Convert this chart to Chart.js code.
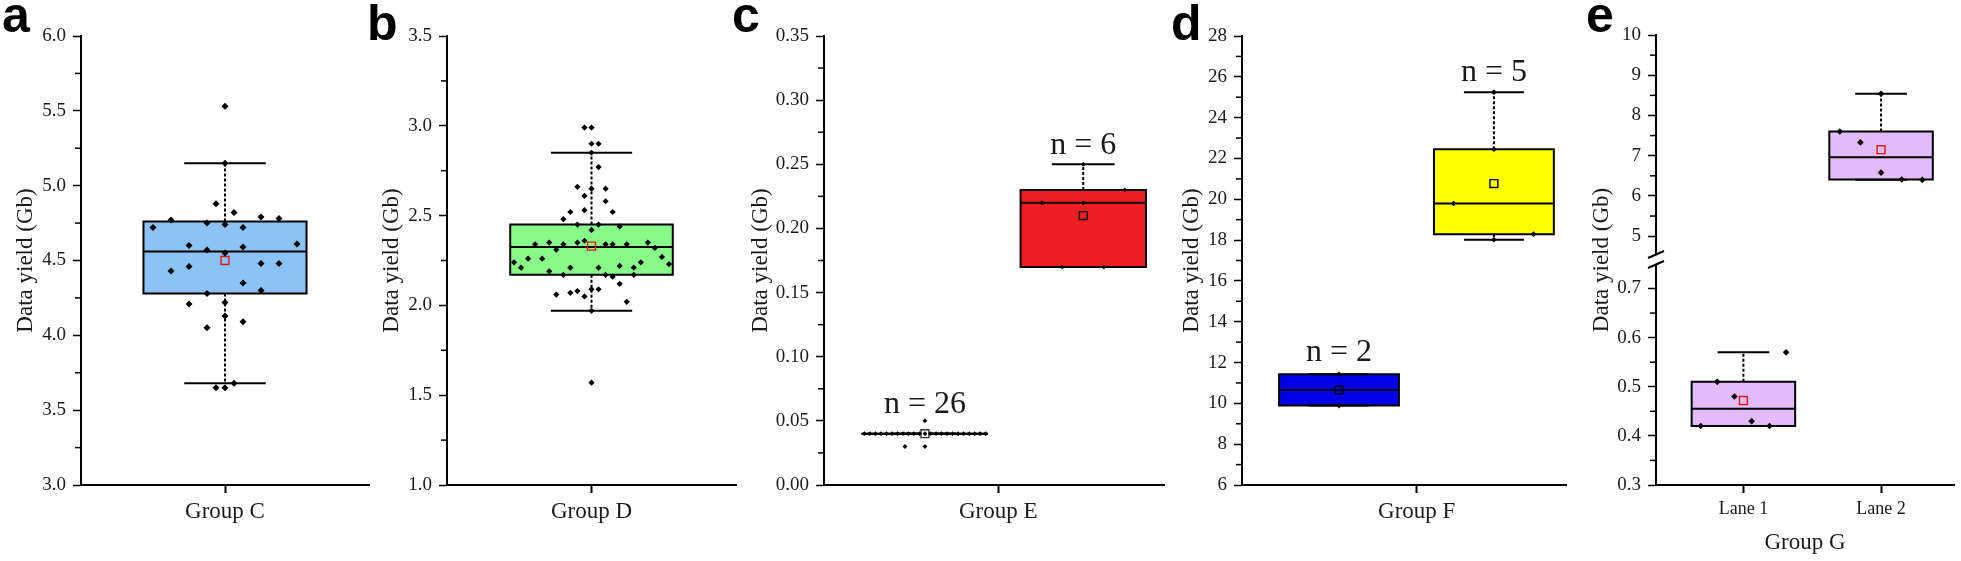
<!DOCTYPE html>
<html>
<head>
<meta charset="utf-8">
<script src="https://cdn.jsdelivr.net/npm/chart.js@4.4.1/dist/chart.umd.min.js"></script>
<style>
  html, body { margin: 0; padding: 0; background: #fff; }
  body { width: 1961px; height: 561px; position: relative; overflow: hidden; }
  canvas { position: absolute; top: 0; }
  .letter { position: absolute; font: bold 50px "Liberation Sans", Arial, sans-serif; line-height: 1; color: #000; }
  .ytitle { position: absolute; width: 300px; text-align: center; font: 23px "Liberation Serif", "Times New Roman", serif;
            line-height: 28px; color: #1a1a1a; transform: rotate(-90deg); }
</style>
</head>
<body>
<canvas id="chartA" width="380" height="561" style="left:0px"></canvas>
<canvas id="chartB" width="380" height="561" style="left:366px"></canvas>
<canvas id="chartC" width="432" height="561" style="left:743px"></canvas>
<canvas id="chartD" width="416" height="561" style="left:1161px"></canvas>
<canvas id="chartE" width="386" height="561" style="left:1575px"></canvas>

<div class="letter" style="left:2px; top:-10px">a</div>
<div class="letter" style="left:367px; top:-2px">b</div>
<div class="letter" style="left:732px; top:-10px">c</div>
<div class="letter" style="left:1171px; top:-2px">d</div>
<div class="letter" style="left:1586px; top:-10px">e</div>
<div class="ytitle" style="left:1451px; top:246px">Data yield (Gb)</div>

<script>
// ---- données ----
// a : Group C
const groupC_values = [5.53, 5.15, 4.88, 4.82, 4.77, 4.79, 4.78, 4.72, 4.75, 4.74, 4.72, 4.60, 4.61, 4.57, 4.59, 4.55,
                       4.43, 4.46, 4.48, 4.48, 4.35, 4.30, 4.28, 4.21, 4.22, 4.13, 4.05, 4.09, 3.65, 3.65, 3.68];
const groupC_jitter = [0, 0, -0.5, 0.5, -3, 2, 3, -4, -1, 0, 1, -2, 4, -1, 1, 0,
                       -3, -2, 2, 3, 1, 2, -1, -2, 0, 0, -1, 1, -0.5, 0, 0.5];
const groupC_box = [3.68, 4.28, 4.56, 4.76, 5.15]; // whisker bas, Q1, médiane, Q3, whisker haut
const groupC_mean = 4.50;

// b : Group D
const groupD_values = [2.99, 2.99, 2.90, 2.90, 2.85, 2.77, 2.66, 2.65, 2.65, 2.61, 2.58, 2.52, 2.53, 2.52, 2.48, 2.45, 2.45, 2.44, 2.42,
                       2.34, 2.35, 2.34, 2.35, 2.36, 2.34, 2.34, 2.34, 2.35, 2.31, 2.32,
                       2.24, 2.21, 2.26, 2.26, 2.27, 2.23, 2.24,
                       2.19, 2.21, 2.21, 2.22, 2.21,
                       2.17, 2.17, 2.16, 2.17,
                       2.06, 2.07, 2.08, 2.05, 2.09, 2.09, 2.12, 2.02, 1.97, 1.57];
const groupD_jitter = [-0.39, 0, 0, 0.39, 0, 0.39, -0.78, 0, 0.78, -0.39, 0.78, -1.17, -0.39, 1.17, -1.56, -0.78, 0.39, 1.56, 0,
                       -3.12, -2.34, -1.56, -0.78, -0.39, 0.78, 1.17, 1.95, 3.12, -1.95, 3.51,
                       -4.29, -3.90, -3.51, -2.73, 3.90, 4.29, 2.73,
                       -2.34, -1.17, 0.39, 1.56, 2.34,
                       -1.56, 0.78, 1.17, 2.34,
                       -1.95, -1.17, -0.78, -0.39, 0, 0.39, 1.56, 1.95, 0, 0];
const groupD_box = [1.97, 2.17, 2.325, 2.45, 2.85];
const groupD_mean = 2.33;

// c : Group E (deux sous-groupes)
const groupE1_values = [0.04, 0.04, 0.04, 0.04, 0.04, 0.04, 0.04, 0.04, 0.04, 0.04, 0.04, 0.04,
                        0.04, 0.04, 0.04, 0.04, 0.04, 0.04, 0.04, 0.04, 0.04, 0.04, 0.04, 0.03, 0.03, 0.05];
const groupE1_jitter = [-2.85, -2.59, -2.33, -2.07, -1.81, -1.55, -1.29, -1.03, -0.78, -0.52, -0.26, 0,
                        0.26, 0.52, 0.78, 1.04, 1.30, 1.56, 1.82, 2.08, 2.34, 2.60, 2.86, -0.94, 0, 0];
const groupE1_box = [0.04, 0.04, 0.04, 0.04, 0.04];
const groupE1_mean = 0.04;
const groupE2_values = [0.25, 0.23, 0.22, 0.22, 0.17, 0.17];
const groupE2_jitter = [0, 1.96, -1.94, 0, -0.99, 0.97];
const groupE2_box = [0.17, 0.17, 0.22, 0.23, 0.25];
const groupE2_mean = 0.21;

// d : Group F
const groupF1_values = [11.43, 9.89];
const groupF1_jitter = [0, 0];
const groupF1_box = [9.89, 9.89, 10.66, 11.43, 11.43];
const groupF1_mean = 10.66;
const groupF2_values = [25.25, 22.45, 19.79, 18.29, 18.02];
const groupF2_jitter = [0, 0, -1.99, 1.96, 0];
const groupF2_box = [18.02, 18.29, 19.79, 22.45, 25.25];
const groupF2_mean = 20.77;

// e : Group G, Lane 1 / Lane 2
const lane1_values = [0.42, 0.51, 0.48, 0.43, 0.42, 0.57];
const lane1_jitter = [-0.31, -0.19, -0.065, 0.06, 0.19, 0.31];
const lane1_box = [0.42, 0.42, 0.455, 0.51, 0.57];
const lane1_mean = 0.472;
const lane2_values = [7.60, 7.33, 8.54, 6.58, 6.41, 6.40];
const lane2_jitter = [-0.30, -0.15, 0, 0, 0.15, 0.30];
const lane2_box = [6.40, 6.41, 6.96, 7.60, 8.54];
const lane2_mean = 7.15;

// graduations
const ticksA = [3.0, 3.5, 4.0, 4.5, 5.0, 5.5, 6.0];
const minorA = [3.25, 3.75, 4.25, 4.75, 5.25, 5.75];
const ticksB = [1.0, 1.5, 2.0, 2.5, 3.0, 3.5];
const minorB = [1.25, 1.75, 2.25, 2.75, 3.25];
const ticksC = [0.00, 0.05, 0.10, 0.15, 0.20, 0.25, 0.30, 0.35];
const minorC = [0.025, 0.075, 0.125, 0.175, 0.225, 0.275, 0.325];
const ticksD = [6, 8, 10, 12, 14, 16, 18, 20, 22, 24, 26, 28];
const minorD = [7, 9, 11, 13, 15, 17, 19, 21, 23, 25, 27];
const ticksEHigh = [5, 6, 7, 8, 9, 10];
const minorEHigh = [5.5, 6.5, 7.5, 8.5, 9.5];
const ticksELow = [0.3, 0.4, 0.5, 0.6, 0.7];
const minorELow = [0.35, 0.45, 0.55, 0.65];
const laneLabels = ['Lane 1', 'Lane 2'];

// ---- mise en page ----
const AXIS_W = 81;
const X_AXIS_H = 76;
const TXT = '#1a1a1a';
Chart.defaults.font.family = '"Liberation Serif", "Times New Roman", serif';
Chart.defaults.color = TXT;

// une boîte à moustaches = plusieurs datasets scatter
function boxPlot(p) {
    const [lo, q1, med, q3, hi] = p.box;
    const L = p.c - p.h, R = p.c + p.h;
    const capL = p.c - p.h / 2, capR = p.c + p.h / 2;
    const yAxisID = p.yAxisID || 'y';
    const line = (data, extra) => Object.assign({
        data, showLine: true, pointRadius: 0, borderColor: '#000', borderWidth: 2,
        fill: false, borderCapStyle: 'butt', yAxisID
    }, extra);
    return [
        { data: p.values.map((v, i) => ({ x: p.c + p.jitter[i], y: v })), pointStyle: 'rectRot', pointRadius: p.r,
          backgroundColor: '#000', borderColor: '#000', borderWidth: 0, order: 0, yAxisID },
        { data: [{ x: p.c, y: p.mean }], pointStyle: 'rect', pointRadius: 5.6, backgroundColor: p.meanFill || 'rgba(0,0,0,0)',
          borderColor: p.meanColor, borderWidth: 1.4, order: 1, yAxisID },
        line([{ x: L, y: med }, { x: R, y: med }], { order: 2 }),
        line([{ x: capL, y: hi }, { x: capR, y: hi }], { order: 3 }),
        line([{ x: capL, y: lo }, { x: capR, y: lo }], { order: 3 }),
        line([{ x: p.c, y: q3 }, { x: p.c, y: hi }], { order: 4, borderDash: [3, 2] }),
        line([{ x: p.c, y: q1 }, { x: p.c, y: lo }], { order: 4, borderDash: [3, 2] }),
        line([{ x: L, y: q1 }, { x: L, y: q3 }, { x: R, y: q3 }, { x: R, y: q1 }, { x: L, y: q1 }],
             { order: 5, fill: 'shape', backgroundColor: p.fill, borderCapStyle: 'square', borderJoinStyle: 'miter' })
    ];
}

function xAxis(o) {
    return {
        type: 'linear', min: o.min, max: o.max,
        afterFit: s => { s.height = X_AXIS_H; },
        afterBuildTicks: s => { s.ticks = o.ticks.map(v => ({ value: v })); },
        ticks: { autoSkip: false, maxRotation: 0, padding: 5, color: TXT, font: { size: o.fontSize || 23 },
                 callback: (v, i) => o.labels[i] },
        grid: { drawOnChartArea: false, tickLength: 8, tickWidth: 2, tickColor: '#000' },
        border: { color: '#000', width: 2 },
        title: o.title ? { display: true, text: o.title, color: TXT, font: { size: 23 }, padding: { top: 0, bottom: 4 } }
                       : { display: false }
    };
}

function yAxis(o) {
    const ax = {
        type: 'linear', position: 'left', min: o.min, max: o.max,
        afterFit: s => { s.width = AXIS_W; },
        afterBuildTicks: s => { s.ticks = o.ticks.map(v => ({ value: v })); },
        ticks: { autoSkip: false, padding: 7, color: TXT, font: { size: 19 }, callback: v => v.toFixed(o.dec) },
        grid: { drawOnChartArea: false, tickLength: 8, tickWidth: 1.5, tickColor: '#000' },
        border: { color: '#000', width: 2 },
        title: o.titlePad !== undefined
            ? { display: true, text: 'Data yield (Gb)', color: TXT, font: { size: 23 }, padding: { top: o.titlePad, bottom: 0 } }
            : { display: false }
    };
    if (o.stack) { ax.stack = o.stack; ax.stackWeight = o.weight; }
    return ax;
}

// petites graduations intermédiaires
function minorTicks(list) {
    return {
        id: 'minorTicks',
        afterDraw(chart) {
            const ctx = chart.ctx;
            ctx.save();
            ctx.strokeStyle = '#000';
            ctx.lineWidth = 1.5;
            list.forEach(m => {
                const s = chart.scales[m.id];
                m.values.forEach(v => {
                    const y = s.getPixelForValue(v);
                    ctx.beginPath();
                    ctx.moveTo(s.right - 6, y);
                    ctx.lineTo(s.right, y);
                    ctx.stroke();
                });
            });
            ctx.restore();
        }
    };
}

// étiquettes "n = ..." au-dessus des groupes
function nLabels(items) {
    return {
        id: 'nLabels',
        afterDatasetsDraw(chart) {
            const ctx = chart.ctx;
            ctx.save();
            ctx.font = '32px "Liberation Serif", "Times New Roman", serif';
            ctx.fillStyle = TXT;
            ctx.textAlign = 'center';
            ctx.textBaseline = 'alphabetic';
            items.forEach(it => {
                const x = chart.scales.x.getPixelForValue(it.x);
                const y = chart.scales[it.axis || 'y'].getPixelForValue(it.y) - it.gap;
                ctx.fillText(it.text, x, y);
            });
            ctx.restore();
        }
    };
}

// coupure de l'axe (panneau e)
function axisBreak(lowId) {
    return {
        id: 'axisBreak',
        afterDraw(chart) {
            const ctx = chart.ctx;
            const x = chart.chartArea.left;
            const y = chart.scales[lowId].top;
            ctx.save();
            ctx.fillStyle = '#fff';
            ctx.fillRect(x - 3, y - 5, 6, 10);
            ctx.strokeStyle = '#000';
            ctx.lineWidth = 2;
            [-5, 5].forEach(d => {
                ctx.beginPath();
                ctx.moveTo(x - 8, y + d + 3.5);
                ctx.lineTo(x + 8, y + d - 3.5);
                ctx.stroke();
            });
            ctx.restore();
        }
    };
}

function makeChart(id, p) {
    return new Chart(document.getElementById(id), {
        type: 'scatter',
        data: { datasets: p.datasets },
        options: {
            responsive: false,
            animation: false,
            events: [],
            layout: { padding: { top: p.top, right: p.padRight, left: 0, bottom: 0 } },
            plugins: { legend: { display: false }, tooltip: { enabled: false } },
            scales: p.scales
        },
        plugins: p.plugins
    });
}

const RED = '#e8141c';

// a
makeChart('chartA', {
    top: 36, padRight: 11,
    datasets: boxPlot({ c: 0, h: 4.53, box: groupC_box, mean: groupC_mean, values: groupC_values, jitter: groupC_jitter,
                        fill: '#8cc3f7', meanColor: RED, r: 3.5 }),
    scales: {
        x: xAxis({ min: -8, max: 8, ticks: [0], labels: ['Group C'] }),
        y: yAxis({ min: 3, max: 6, ticks: ticksA, dec: 1, titlePad: 12 })
    },
    plugins: [minorTicks([{ id: 'y', values: minorA }])]
});

// b
makeChart('chartB', {
    top: 36, padRight: 10,
    datasets: boxPlot({ c: 0, h: 4.5, box: groupD_box, mean: groupD_mean, values: groupD_values, jitter: groupD_jitter,
                        fill: '#88fb88', meanColor: RED, r: 3.1 }),
    scales: {
        x: xAxis({ min: -8, max: 8, ticks: [0], labels: ['Group D'] }),
        y: yAxis({ min: 1, max: 3.5, ticks: ticksB, dec: 1, titlePad: 12.5 })
    },
    plugins: [minorTicks([{ id: 'y', values: minorB }])]
});

// c
const cE1 = -3.25, cE2 = 4.2;
makeChart('chartC', {
    top: 36, padRight: 11,
    datasets: [
        ...boxPlot({ c: cE1, h: 2.95, box: groupE1_box, mean: groupE1_mean, values: groupE1_values, jitter: groupE1_jitter,
                     fill: '#ffffff', meanColor: '#333', meanFill: '#ffffff', r: 2.4 }),
        ...boxPlot({ c: cE2, h: 2.95, box: groupE2_box, mean: groupE2_mean, values: groupE2_values, jitter: groupE2_jitter,
                     fill: '#ee1e24', meanColor: '#000', r: 2.4 })
    ],
    scales: {
        x: xAxis({ min: -8, max: 8, ticks: [0.2], labels: ['Group E'] }),
        y: yAxis({ min: 0, max: 0.35, ticks: ticksC, dec: 2, titlePad: 4 })
    },
    plugins: [
        minorTicks([{ id: 'y', values: minorC }]),
        nLabels([
            { text: 'n = 26', x: cE1, y: Math.max(...groupE1_values), gap: 8 },
            { text: 'n = 6', x: cE2, y: Math.max(...groupE2_values), gap: 10 }
        ])
    ]
});

// d
const cF1 = -3.21, cF2 = 4.44;
makeChart('chartD', {
    top: 36, padRight: 11,
    datasets: [
        ...boxPlot({ c: cF1, h: 2.96, box: groupF1_box, mean: groupF1_mean, values: groupF1_values, jitter: groupF1_jitter,
                     fill: '#0000e6', meanColor: '#000', r: 2.8 }),
        ...boxPlot({ c: cF2, h: 2.96, box: groupF2_box, mean: groupF2_mean, values: groupF2_values, jitter: groupF2_jitter,
                     fill: '#ffff00', meanColor: '#000', r: 2.8 })
    ],
    scales: {
        x: xAxis({ min: -8, max: 8, ticks: [0.63], labels: ['Group F'] }),
        y: yAxis({ min: 6, max: 28, ticks: ticksD, dec: 0, titlePad: 17.5 })
    },
    plugins: [
        minorTicks([{ id: 'y', values: minorD }]),
        nLabels([
            { text: 'n = 2', x: cF1, y: Math.max(...groupF1_values), gap: 13 },
            { text: 'n = 5', x: cF2, y: Math.max(...groupF2_values), gap: 11 }
        ])
    ]
});

// e : axe Y coupé (deux échelles empilées)
makeChart('chartE', {
    top: 35, padRight: 4,
    datasets: [
        ...boxPlot({ c: 1, h: 0.376, box: lane1_box, mean: lane1_mean, values: lane1_values, jitter: lane1_jitter,
                     fill: '#e2bcf8', meanColor: RED, r: 3.3, yAxisID: 'yLow' }),
        ...boxPlot({ c: 2, h: 0.376, box: lane2_box, mean: lane2_mean, values: lane2_values, jitter: lane2_jitter,
                     fill: '#e2bcf8', meanColor: RED, r: 3.3, yAxisID: 'yHigh' })
    ],
    scales: {
        x: xAxis({ min: 0.365, max: 2.53, ticks: [1, 2], labels: laneLabels, fontSize: 18, title: 'Group G' }),
        yLow: yAxis({ min: 0.3, max: 0.759, ticks: ticksELow, dec: 1, stack: 'g', weight: 225.5 }),
        yHigh: yAxis({ min: 4.42, max: 10, ticks: ticksEHigh, dec: 0, stack: 'g', weight: 224.5 })
    },
    plugins: [
        minorTicks([{ id: 'yLow', values: minorELow }, { id: 'yHigh', values: minorEHigh }]),
        axisBreak('yLow')
    ]
});
</script>
</body>
</html>
